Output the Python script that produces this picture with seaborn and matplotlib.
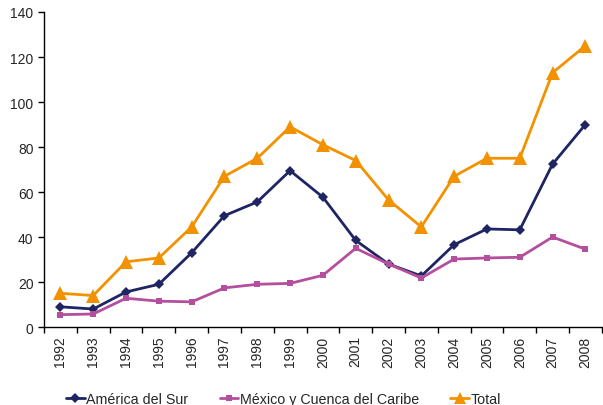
import numpy as np
import pandas as pd
import matplotlib
matplotlib.use("Agg")
import matplotlib.pyplot as plt
import seaborn as sns

years = [str(y) for y in range(1992, 2009)]
america_sur = [9, 8, 15.6, 19, 33, 49.5, 55.6, 69.5, 57.7, 38.5, 28, 22.7, 36.6, 43.6, 43.2, 72.4, 90]
mexico_caribe = [5.5, 5.8, 12.8, 11.5, 11.2, 17.4, 19, 19.4, 23, 35, 28, 21.8, 30.2, 30.7, 31, 40, 34.6]
total = [15, 14, 29, 30.7, 44.5, 67, 75, 89, 81, 74, 56.5, 44.5, 67, 75, 75, 113, 125]

series_names = ["América del Sur", "México y Cuenca del Caribe", "Total"]
colors = ["#1F2563", "#B44F9E", "#F39200"]

df = pd.DataFrame({
    "pos": list(range(len(years))) * 3,
    "valor": america_sur + mexico_caribe + total,
    "serie": np.repeat(series_names, len(years)),
})

sns.set_style("white")
plt.rcParams["font.family"] = ["Liberation Sans", "DejaVu Sans"]

fig = plt.figure(figsize=(6.03, 4.06), dpi=100)
ax = fig.add_axes([0.073, 0.192, 0.925, 0.776])

sns.lineplot(data=df, x="pos", y="valor", hue="serie", style="serie",
             palette=colors, markers=["D", "s", "^"], dashes=False,
             linewidth=2, markeredgewidth=0, ax=ax, legend=False)
# tamaños de marcador por serie
for line, ms in zip(ax.lines, [5, 5, 10]):
    line.set_markersize(ms)

ax.set_xlim(-0.5, len(years) - 0.5)
ax.set_ylim(0, 140)
ax.set_yticks(range(0, 141, 20))
ax.set_xticks(np.arange(-0.5, len(years), 1))
ax.set_xticklabels([])
ax.set_xticks(range(len(years)), minor=True)
ax.set_xticklabels(years, minor=True, rotation=90)
ax.tick_params(axis="x", which="major", direction="out", length=4, width=1, color="black", bottom=True)
ax.tick_params(axis="x", which="minor", length=0, labelsize=10, pad=6)
ax.tick_params(axis="y", direction="out", length=4, width=1, color="black", left=True, labelsize=10)
ax.set_xlabel("")
ax.set_ylabel("")
sns.despine(ax=ax)
for s in ["left", "bottom"]:
    ax.spines[s].set_color("black")
    ax.spines[s].set_linewidth(1)

handles = [plt.Line2D([], [], color=c, marker=m, markersize=ms, linewidth=2, markeredgewidth=0)
           for c, m, ms in zip(colors, ["D", "s", "^"], [5, 5, 9])]
fig.legend(handles, series_names, loc="lower center", bbox_to_anchor=(0.47, -0.035),
           ncol=3, frameon=False, fontsize=10.3, handlelength=1.3, handletextpad=0.1,
           columnspacing=2.2)

fig.savefig("out.png", dpi=100)
